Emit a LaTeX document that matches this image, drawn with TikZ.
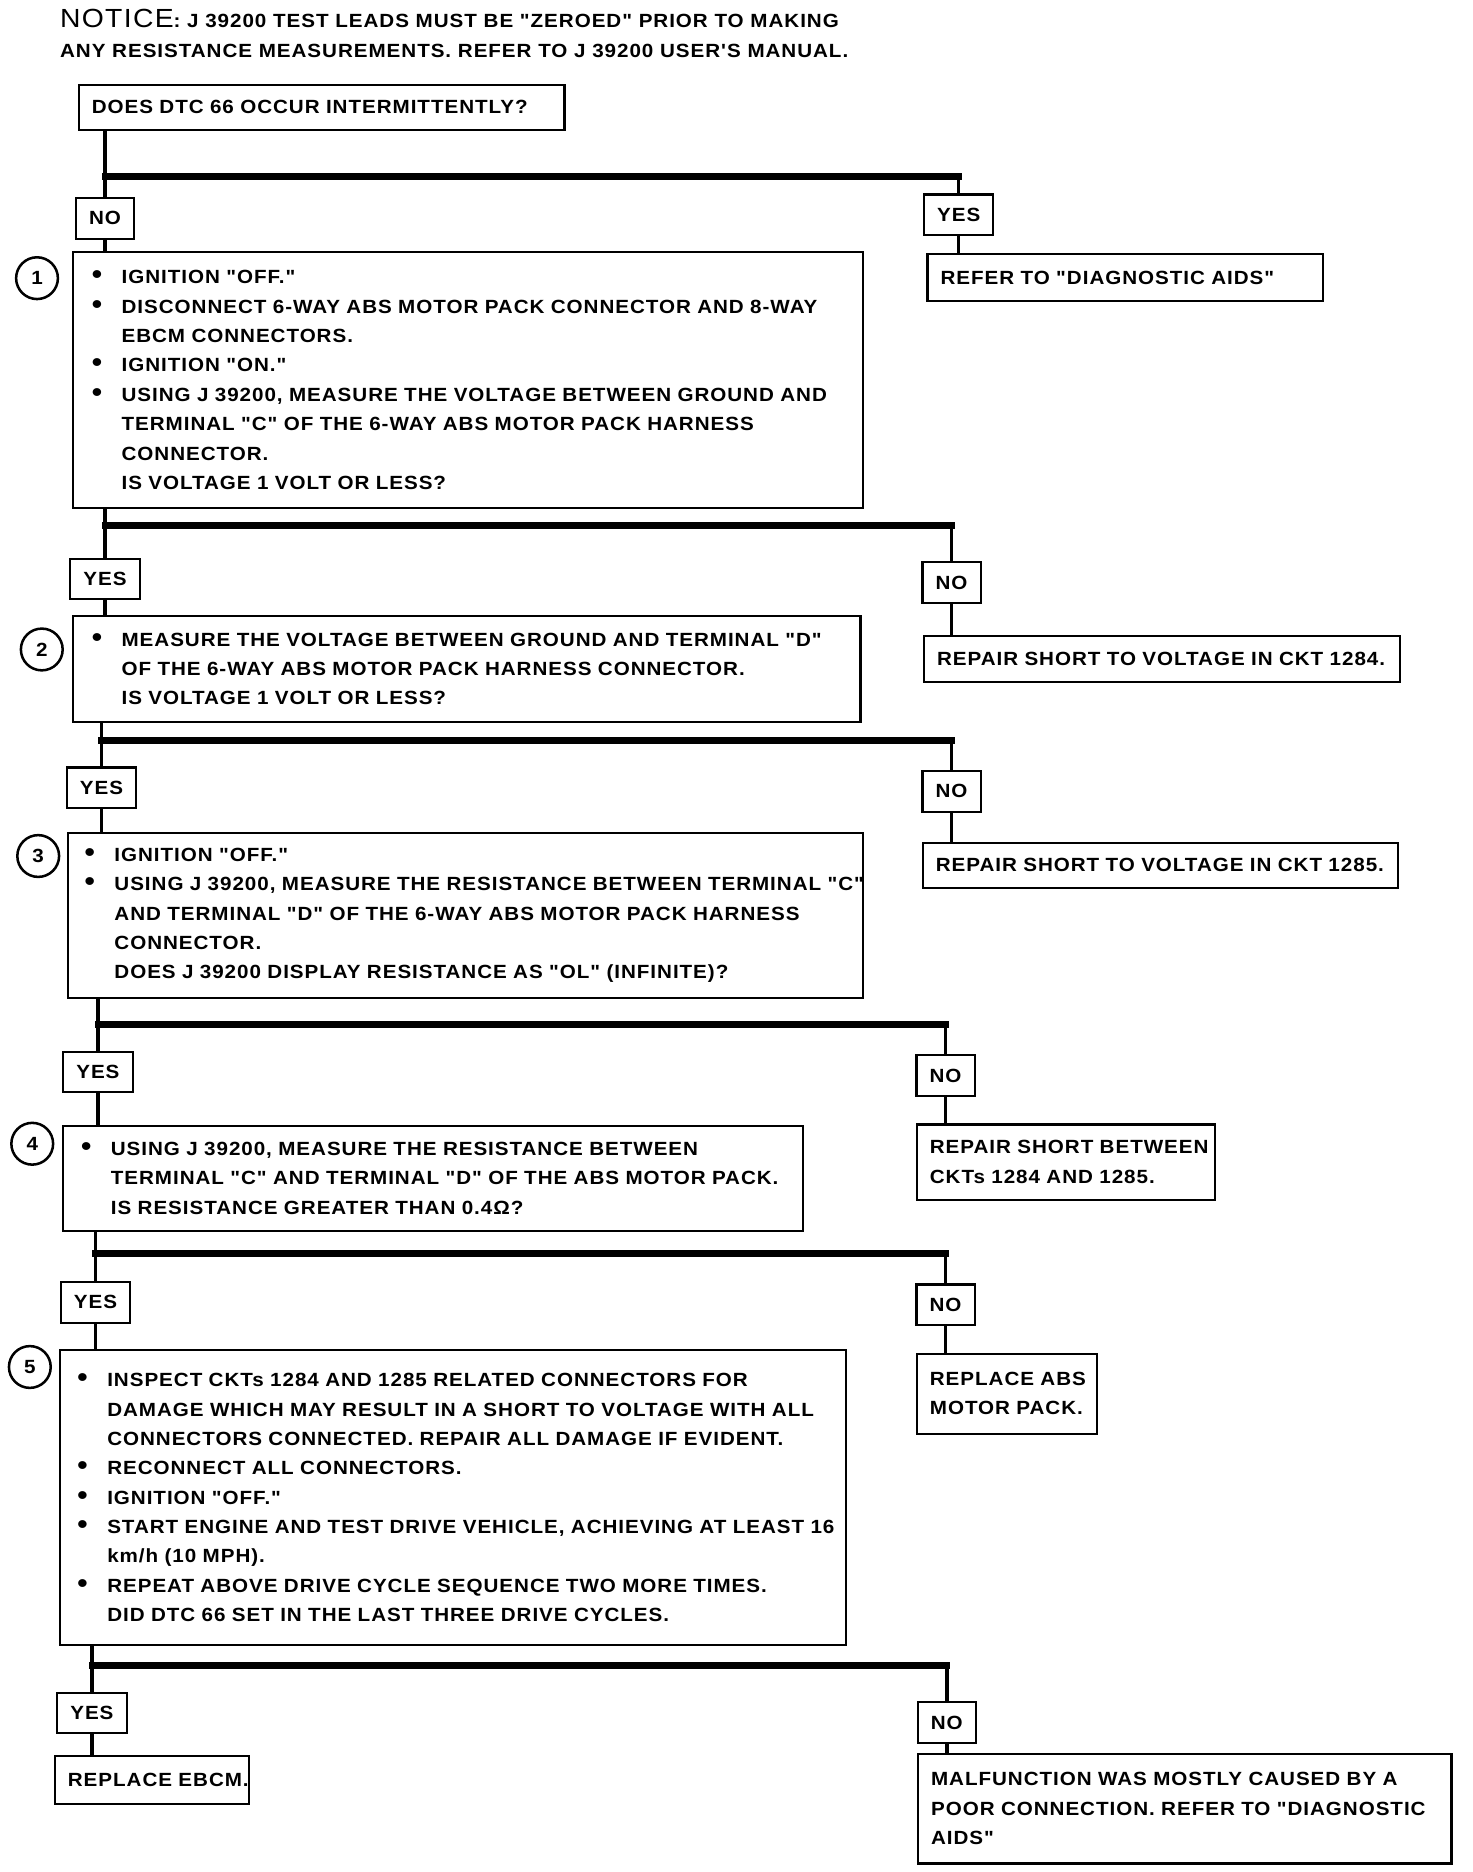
\documentclass[tikz,border=0pt]{standalone}
\usepackage{fontspec}
\setmainfont{Liberation Sans}[FakeStretch=1.08,LetterSpace=5,Ligatures=TeXOff]
\setlength{\parindent}{0pt}
\newcommand{\bul}[1]{\makebox[0.5cm][l]{\fontsize{13}{14}\selectfont•}\mbox{#1}}
\newcommand{\ind}[1]{\hspace*{0.5cm}\mbox{#1}}

\begin{document}
\begin{tikzpicture}[x=0.02cm,y=-0.02cm]
\tikzstyle{every node}=[font=\fontsize{9.1}{14}\selectfont\bfseries]
\tikzstyle{qbox}=[draw,line width=1pt,anchor=north west,align=left,inner ysep=0pt]
\tikzstyle{ans}=[draw,line width=1pt,anchor=north,minimum height=0.68cm,inner xsep=0.22cm,inner ysep=0pt]
\tikzstyle{num}=[draw,circle,line width=1.2pt,minimum size=0.7cm,inner sep=0pt]
\tikzstyle{stem}=[line width=1.7pt]
\tikzstyle{bar}=[line width=3.2pt,line cap=rect]
\useasboundingbox (0,0) rectangle (1233,1568);

\node (notice) [anchor=base west,inner sep=0pt] at (50,23) {{\fontsize{12.5}{14}\selectfont\mdseries NOTICE}: J 39200 TEST LEADS MUST BE "ZEROED" PRIOR TO MAKING};
\node (notice2) [anchor=base west,inner sep=0pt] at (50,48) {ANY RESISTANCE MEASUREMENTS. REFER TO J 39200 USER'S MANUAL.};

\node (q0) [qbox,inner xsep=0.22cm,text width=7.70cm,minimum height=0.76cm] at (65,70) {DOES DTC 66 OCCUR INTERMITTENTLY?};
\node (q1) [qbox,inner xsep=0.32cm,text width=12.60cm,minimum height=4.30cm] at (60,210) {\bul{IGNITION "OFF."}\\
\bul{DISCONNECT 6-WAY ABS MOTOR PACK CONNECTOR AND 8-WAY}\\
\ind{EBCM CONNECTORS.}\\
\bul{IGNITION "ON."}\\
\bul{USING J 39200, MEASURE THE VOLTAGE BETWEEN GROUND AND}\\
\ind{TERMINAL "C" OF THE 6-WAY ABS MOTOR PACK HARNESS}\\
\ind{CONNECTOR.}\\
\ind{IS VOLTAGE 1 VOLT OR LESS?}};
\node (q2) [qbox,inner xsep=0.32cm,text width=12.56cm,minimum height=1.78cm] at (60,515) {\bul{MEASURE THE VOLTAGE BETWEEN GROUND AND TERMINAL "D"}\\
\ind{OF THE 6-WAY ABS MOTOR PACK HARNESS CONNECTOR.}\\
\ind{IS VOLTAGE 1 VOLT OR LESS?}};
\node (q3) [qbox,inner xsep=0.28cm,text width=12.76cm,minimum height=2.76cm] at (56,697) {\bul{IGNITION "OFF."}\\
\bul{USING J 39200, MEASURE THE RESISTANCE BETWEEN TERMINAL "C"}\\
\ind{AND TERMINAL "D" OF THE 6-WAY ABS MOTOR PACK HARNESS}\\
\ind{CONNECTOR.}\\
\ind{DOES J 39200 DISPLAY RESISTANCE AS "OL" (INFINITE)?}};
\node (q4) [qbox,inner xsep=0.30cm,text width=11.80cm,minimum height=1.76cm] at (52,942) {\bul{USING J 39200, MEASURE THE RESISTANCE BETWEEN}\\
\ind{TERMINAL "C" AND TERMINAL "D" OF THE ABS MOTOR PACK.}\\
\ind{IS RESISTANCE GREATER THAN 0.4Ω?}};
\node (q5) [qbox,inner xsep=0.30cm,text width=12.58cm,minimum height=4.94cm] at (49,1130) {\bul{INSPECT CKTs 1284 AND 1285 RELATED CONNECTORS FOR}\\
\ind{DAMAGE WHICH MAY RESULT IN A SHORT TO VOLTAGE WITH ALL}\\
\ind{CONNECTORS CONNECTED. REPAIR ALL DAMAGE IF EVIDENT.}\\
\bul{RECONNECT ALL CONNECTORS.}\\
\bul{IGNITION "OFF."}\\
\bul{START ENGINE AND TEST DRIVE VEHICLE, ACHIEVING AT LEAST 16}\\
\ind{km/h (10 MPH).}\\
\bul{REPEAT ABOVE DRIVE CYCLE SEQUENCE TWO MORE TIMES.}\\
\ind{DID DTC 66 SET IN THE LAST THREE DRIVE CYCLES.}};

\node (c1) [num] at (31,233) {1};
\node (c2) [num] at (35,544) {2};
\node (c3) [num] at (32,717) {3};
\node (c4) [num] at (27,958) {4};
\node (c5) [num] at (25,1145) {5};

\node (res0) [qbox,inner xsep=0.22cm,text width=6.18cm,minimum height=0.78cm] at (776,212) {\mbox{REFER TO "DIAGNOSTIC AIDS"}};
\node (res1) [qbox,inner xsep=0.22cm,text width=7.54cm,minimum height=0.76cm] at (773,532) {\mbox{REPAIR SHORT TO VOLTAGE IN CKT 1284.}};
\node (res2) [qbox,inner xsep=0.22cm,text width=7.52cm,minimum height=0.76cm] at (772,705) {\mbox{REPAIR SHORT TO VOLTAGE IN CKT 1285.}};
\node (res3) [qbox,inner xsep=0.22cm,text width=4.56cm,minimum height=1.26cm] at (767,941) {\mbox{REPAIR SHORT BETWEEN}\\\mbox{CKTs 1284 AND 1285.}};
\node (res4) [qbox,inner xsep=0.22cm,text width=2.58cm,minimum height=1.34cm] at (767,1133) {\mbox{REPLACE ABS}\\\mbox{MOTOR PACK.}};
\node (res5) [qbox,inner xsep=0.22cm,text width=8.50cm,minimum height=1.84cm] at (768,1468) {\mbox{MALFUNCTION WAS MOSTLY CAUSED BY A}\\\mbox{POOR CONNECTION. REFER TO "DIAGNOSTIC}\\\mbox{AIDS"}};
\node (fin) [qbox,inner xsep=0.22cm,text width=2.82cm,minimum height=0.80cm] at (45,1470) {\mbox{REPLACE EBCM.}};

\node (l0) [ans] at (88,165) {NO};
\node (r0) [ans] at (803,162) {YES};
\node (l1) [ans] at (88,467) {YES};
\node (r1) [ans] at (797,470) {NO};
\node (l2) [ans] at (85,642) {YES};
\node (r2) [ans] at (797,645) {NO};
\node (l3) [ans] at (82,880) {YES};
\node (r3) [ans] at (792,883) {NO};
\node (l4) [ans] at (80,1073) {YES};
\node (r4) [ans] at (792,1075) {NO};
\node (l5) [ans] at (77,1417) {YES};
\node (r5) [ans] at (793,1425) {NO};

\coordinate (b0) at (88,148);
\coordinate (b1) at (88,440);
\coordinate (b2) at (85,620);
\coordinate (b3) at (82,858);
\coordinate (b4) at (80,1050);
\coordinate (b5) at (77,1395);

\foreach \i/\q/\nxt in {0/q0/q1,1/q1/q2,2/q2/q3,3/q3/q4,4/q4/q5,5/q5/fin}{
  \draw[stem] (\q.south -| b\i) -- (l\i.north);
  \draw[bar] (b\i) -- (b\i -| r\i.north);
  \draw[stem] (b\i -| r\i.north) -- (r\i.north);
  \draw[stem] (l\i.south) -- (l\i.south |- \nxt.north);
  \draw[stem] (r\i.south) -- (r\i.south |- res\i.north);
}
\end{tikzpicture}
\end{document}
